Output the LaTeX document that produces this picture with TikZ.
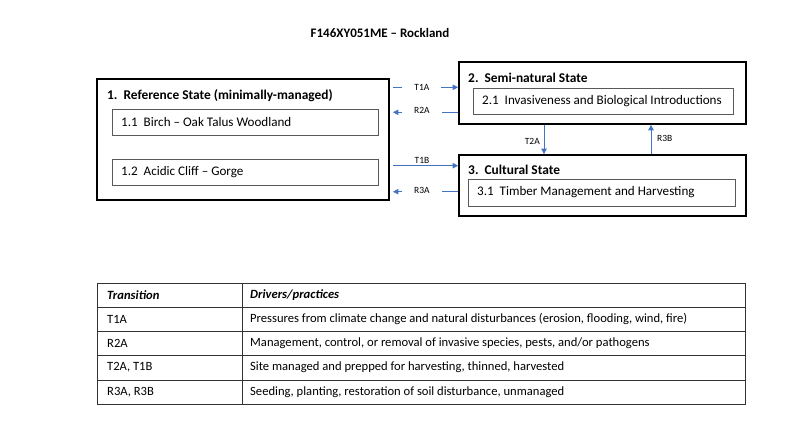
\documentclass[tikz,border=0pt]{standalone}
\usepackage{fontspec}
\setmainfont{Carlito}
\usetikzlibrary{arrows.meta}
\definecolor{arrblue}{HTML}{4472C4}
\definecolor{innergray}{HTML}{595959}
\begin{document}
\begin{tikzpicture}[x=1pt,y=-1pt,
  outerbox/.style={draw=black,line width=1.8pt,inner sep=0pt},
  innerbox/.style={draw=innergray,line width=0.9pt,inner sep=0pt},
  ttl/.style={anchor=west,font=\fontsize{13.4}{15}\selectfont\bfseries,inner sep=0pt},
  itxt/.style={anchor=west,font=\fontsize{13.1}{15}\selectfont,inner sep=0pt},
  arr/.style={draw=arrblue,line width=0.9pt,-{Triangle[width=5.5pt,length=5.5pt]}},
  lab/.style={font=\fontsize{9.5}{11}\selectfont,fill=white,inner xsep=12pt,inner ysep=1pt},
  vlab/.style={font=\fontsize{9.5}{11}\selectfont,inner sep=0pt},
  tline/.style={draw=black!80,line width=0.8pt},
  ttxt/.style={anchor=west,font=\fontsize{12.6}{14}\selectfont,inner sep=0pt},
  thd/.style={anchor=west,font=\fontsize{12.6}{14}\selectfont\bfseries\itshape,inner sep=0pt}]
\useasboundingbox (0,0) rectangle (800,435);
% title
\node[font=\fontsize{13}{15}\selectfont\bfseries,inner sep=0pt] (title) at (380,33) {F146XY051ME – Rockland};
% state boxes
\node[outerbox,minimum width=292pt,minimum height=121pt] (s1) at (243,139.5) {};
\node[outerbox,minimum width=287pt,minimum height=62pt] (s2) at (602.5,93) {};
\node[outerbox,minimum width=287pt,minimum height=61pt] (s3) at (602.5,185.5) {};
\node[innerbox,minimum width=266pt,minimum height=26pt] (p11) at (245,122) {};
\node[innerbox,minimum width=266pt,minimum height=26pt] (p12) at (245,172) {};
\node[innerbox,minimum width=260pt,minimum height=26pt] (p21) at (603,101) {};
\node[innerbox,minimum width=267pt,minimum height=27pt] (p31) at (601.5,192.5) {};
\node[ttl] (t1) at (107,95.5) {1.\ \ Reference State (minimally-managed)};
\node[ttl] (t2) at (468,78) {2.\ \ Semi-natural State};
\node[ttl] (t3) at (468,170) {3.\ \ Cultural State};
\node[itxt] (x11) at (121,122) {1.1\ \ Birch – Oak Talus Woodland};
\node[itxt] (x12) at (121,172) {1.2\ \ Acidic Cliff – Gorge};
\node[itxt] (x21) at (482,101) {2.1\ \ Invasiveness and Biological Introductions};
\node[itxt] (x31) at (477,192.5) {3.1\ \ Timber Management and Harvesting};
% transitions
\coordinate (yt1a) at (0,87.3);
\coordinate (yr2a) at (0,112.3);
\coordinate (yt1b) at (0,165.7);
\coordinate (yr3a) at (0,191.7);
\coordinate (xt2a) at (544,0);
\coordinate (xr3b) at (651,0);
\draw[arr,shorten <=3pt] (yt1a -| s1.east) -- node[lab,pos=0.47]{T1A} (yt1a -| s2.west);
\draw[arr,shorten >=3pt] (yr2a -| s2.west) -- node[lab,pos=0.53,yshift=1.5pt]{R2A} (yr2a -| s1.east);
\draw[arr,shorten <=3pt] (yt1b -| s1.east) -- node[lab,pos=0.47,yshift=5pt]{T1B} (yt1b -| s3.west);
\draw[arr,shorten >=3pt] (yr3a -| s3.west) -- node[lab,pos=0.53,yshift=1.5pt]{R3A} (yr3a -| s1.east);
\draw[arr] (xt2a |- s2.south) -- (xt2a |- s3.north);
\node[vlab,anchor=east] (lt2a) at (540,141) {T2A};
\draw[arr] (xr3b |- s3.north) -- (xr3b |- s2.south);
\node[vlab,anchor=west] (lr3b) at (657,138) {R3B};
% table
\draw[tline] (97,283) rectangle (745,404);
\foreach \yy in {307,331,355,380} {\draw[tline] (97,\yy) -- (745,\yy);}
\draw[tline] (242,283) -- (242,404);
\node[thd] (h1) at (107,295) {Transition};
\node[thd] (h2) at (250,295) {Drivers/practices};
\node[ttxt] (a1) at (107,319) {T1A};
\node[ttxt] (b1) at (250,319) {Pressures from climate change and natural disturbances (erosion, flooding, wind, fire)};
\node[ttxt] (a2) at (107,343) {R2A};
\node[ttxt] (b2) at (250,343) {Management, control, or removal of invasive species, pests, and/or pathogens};
\node[ttxt] (a3) at (107,367.5) {T2A, T1B};
\node[ttxt] (b3) at (250,367.5) {Site managed and prepped for harvesting, thinned, harvested};
\node[ttxt] (a4) at (107,392) {R3A, R3B};
\node[ttxt] (b4) at (250,392) {Seeding, planting, restoration of soil disturbance, unmanaged};
\end{tikzpicture}
\end{document}
